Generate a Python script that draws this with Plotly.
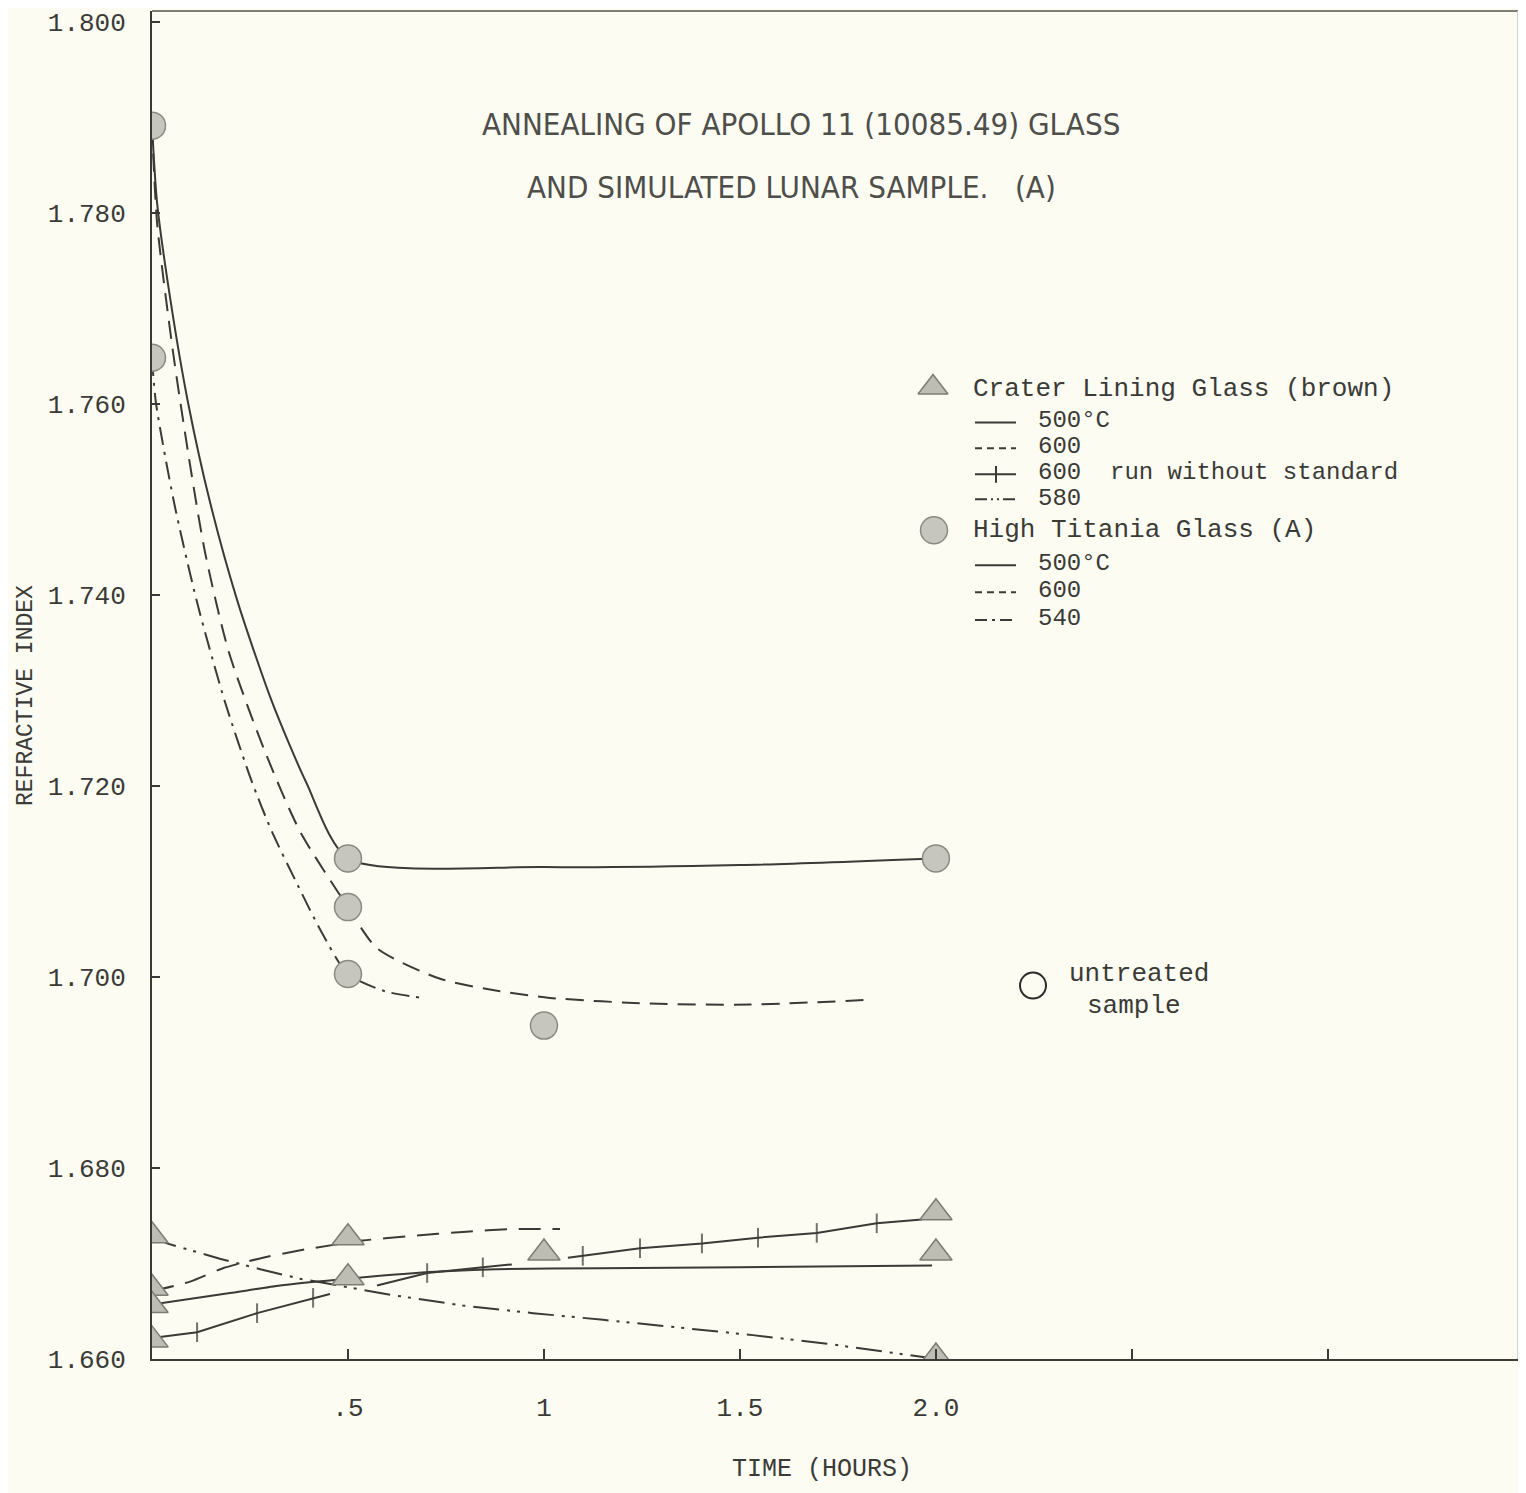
import plotly.graph_objects as go

# ---------------- data ----------------
# High Titania Glass (A): measured points
ht_x = [0, 0, 0.5, 0.5, 0.5, 1.0, 2.0]
ht_y = [1.7891, 1.7648, 1.7124, 1.7073, 1.7003, 1.6949, 1.7124]

# Crater Lining Glass (brown): measured points
cl_x = [0, 0, 0, 0, 0.5, 0.5, 1.0, 2.0, 2.0, 2.0]
cl_y = [1.6729, 1.6674, 1.6656, 1.6620, 1.6727, 1.6685, 1.6711, 1.6753, 1.6711, 1.6602]

# High Titania curves (traced)
ht500_x = [0, 0.013, 0.048, 0.092, 0.148, 0.219, 0.306, 0.393, 0.5, 1.0, 1.5, 2.0]
ht500_y = [1.7891, 1.7810, 1.7706, 1.7601, 1.7497, 1.7392, 1.7288, 1.7204, 1.7124, 1.7115, 1.7117, 1.7124]

ht600_x = [0, 0.013, 0.054, 0.092, 0.135, 0.196, 0.288, 0.378, 0.5,
           0.574, 0.735, 0.888, 1.015, 1.270, 1.526, 1.832]
ht600_y = [1.7891, 1.7789, 1.7653, 1.7549, 1.7445, 1.7340, 1.7236, 1.7152, 1.7073,
           1.7030, 1.6998, 1.6985, 1.6978, 1.6972, 1.6971, 1.6976]

ht540_x = [0, 0.010, 0.056, 0.115, 0.186, 0.255, 0.306, 0.367, 0.431, 0.5, 0.594, 0.689]
ht540_y = [1.7648, 1.7601, 1.7497, 1.7392, 1.7288, 1.7204, 1.7152, 1.7100, 1.7048, 1.7003, 1.6985, 1.6978]

# Crater Lining curves (traced)
cl500_x = [0, 0.199, 0.327, 0.472, 0.709, 0.880, 1.143, 1.5, 1.99]
cl500_y = [1.6657, 1.6669, 1.6677, 1.6683, 1.6691, 1.6694, 1.6695, 1.6696, 1.6698]

cl600_x = [0, 0.097, 0.181, 0.283, 0.395, 0.538, 0.666, 0.793, 0.921, 1.041]
cl600_y = [1.6671, 1.6681, 1.6695, 1.6706, 1.6715, 1.6724, 1.6729, 1.6733, 1.6736, 1.6736]

# 600 run without standard (None = break in the drawn line)
cl600ns_x = [0, 0.115, 0.268, 0.411, 0.454, None, 0.574, 0.702, 0.844, 0.918, None,
             1.061, 1.099, 1.245, 1.403, 1.546, 1.696, 1.849, 1.964]
cl600ns_y = [1.6622, 1.6628, 1.6648, 1.6664, 1.6668, None, 1.6677, 1.6690, 1.6696, 1.6699, None,
             1.6706, 1.6708, 1.6716, 1.6721, 1.6727, 1.6732, 1.6742, 1.6746]
cl600ns_tick = [0, 1, 1, 1, 0, 0, 0, 1, 1, 0, 0, 0, 1, 1, 1, 1, 1, 1, 0]

cl580_x = [0, 0.038, 0.173, 0.276, 0.378, 0.612, 0.793, 0.972, 1.151, 1.347, 1.533, 1.722, 1.883, 1.985]
cl580_y = [1.6729, 1.6721, 1.6705, 1.6694, 1.6684, 1.6667, 1.6656, 1.6648, 1.6641, 1.6633, 1.6625,
           1.6616, 1.6607, 1.6601]

y_ticks = [1.660, 1.680, 1.700, 1.720, 1.740, 1.760, 1.780, 1.800]
y_ticktext = ["1.660", "1.680", "1.700", "1.720", "1.740", "1.760", "1.780", "1.800"]
x_ticks = [0.5, 1.0, 1.5, 2.0, 2.5, 3.0]
x_ticktext = [".5", "1", "1.5", "2.0", "", ""]

# ---------------- styling ----------------
BG = "#fcfcf3"
INK = "#3a3a36"
MONO = "Liberation Mono, Courier New, monospace"
O = 8                      # page offset of the figure (body margin)
W, H = 1518, 1485
L, R, T, B = 144, 8, 1, 134
PW, PH = W - L - R, H - T - B


def px(x):                 # page pixel -> paper fraction
    return (x - O - L) / PW


def py(y):
    return (H - B - (y - O)) / PH


fig = go.Figure()

line_common = dict(color=INK, width=2)

fig.add_trace(go.Scatter(x=ht500_x, y=ht500_y, mode="lines", line=dict(**line_common, shape="spline", smoothing=0.7)))
fig.add_trace(go.Scatter(x=ht600_x, y=ht600_y, mode="lines",
                         line=dict(**line_common, dash="18px,10px", shape="spline", smoothing=0.7)))
fig.add_trace(go.Scatter(x=ht540_x, y=ht540_y, mode="lines",
                         line=dict(**line_common, dash="18px,7px,3px,7px", shape="spline", smoothing=0.7)))

fig.add_trace(go.Scatter(x=cl500_x, y=cl500_y, mode="lines", line=dict(**line_common, shape="spline", smoothing=0.6)))
fig.add_trace(go.Scatter(x=cl600_x, y=cl600_y, mode="lines",
                         line=dict(**line_common, dash="22px,12px", shape="spline", smoothing=0.6)))
fig.add_trace(go.Scatter(x=cl600ns_x, y=cl600ns_y, mode="lines+markers", connectgaps=False,
                         line=dict(**line_common),
                         marker=dict(symbol="line-ns", size=[14 * t for t in cl600ns_tick],
                                     line=dict(color=INK, width=2), color=INK)))
fig.add_trace(go.Scatter(x=cl580_x, y=cl580_y, mode="lines",
                         line=dict(**line_common, dash="26px,8px,3px,7px,3px,8px")))

fig.add_trace(go.Scatter(x=ht_x, y=ht_y, mode="markers",
                         marker=dict(symbol="circle", size=27, color="#c6c6be",
                                     line=dict(color="#8a8a82", width=1.5))))
fig.add_trace(go.Scatter(x=cl_x, y=cl_y, mode="markers",
                         marker=dict(symbol="triangle-up", size=28, color="#bdbdb4",
                                     line=dict(color="#7c7c74", width=1.5))))

# ---------------- legend drawn on an overlay (paper-like) axis ----------------
ov = dict(xaxis="x2", yaxis="y2", hoverinfo="skip")
fig.add_trace(go.Scatter(x=[px(933)], y=[py(386)], mode="markers", **ov,
                         marker=dict(symbol="triangle-up", size=26, color="#bdbdb4",
                                     line=dict(color="#7c7c74", width=1.5))))
fig.add_trace(go.Scatter(x=[px(934)], y=[py(529)], mode="markers", **ov,
                         marker=dict(symbol="circle", size=27, color="#c6c6be",
                                     line=dict(color="#8a8a82", width=1.5))))


def sample(yc, dash, tick=False):
    fig.add_trace(go.Scatter(x=[px(975), px(1016)], y=[py(yc), py(yc)], mode="lines", **ov,
                             line=dict(color=INK, width=2, dash=dash)))
    if tick:
        fig.add_trace(go.Scatter(x=[px(996)], y=[py(yc)], mode="markers", **ov,
                                 marker=dict(symbol="line-ns", size=12, line=dict(color=INK, width=2))))


sample(421, "solid")
sample(447, "7px,5px")
sample(473, "solid", tick=True)
sample(498, "12px,4px,2px,4px,2px,4px")
sample(564, "solid")
sample(591, "7px,5px")
sample(619, "12px,5px,3px,5px")

# untreated sample open circle
fig.add_trace(go.Scatter(x=[px(1033)], y=[py(985)], mode="markers", **ov,
                         marker=dict(symbol="circle-open", size=26, color="#2a2a28",
                                     line=dict(color="#2a2a28", width=2))))

ann = []


def txt(x, y, s, size=25, anchor="left", font=MONO, color="#3a3a36"):
    ann.append(dict(x=px(x), y=py(y), xref="paper", yref="paper", text=s, showarrow=False,
                    xanchor=anchor, yanchor="middle", font=dict(family=font, size=size, color=color)))


txt(971, 388, "Crater Lining Glass (brown)", size=26)
txt(1036, 419, "500°C", size=24)
txt(1036, 445, "600", size=24)
txt(1036, 471, "600  run without standard", size=24)
txt(1036, 497, "580", size=24)
txt(971, 529, "High Titania Glass (A)", size=26)
txt(1036, 562, "500°C", size=24)
txt(1036, 589, "600", size=24)
txt(1036, 617, "540", size=24)
txt(1067, 973, "untreated", size=26)
txt(1085, 1005, "sample", size=26)

TITLE_FONT = "DejaVu Sans Condensed, Liberation Sans Narrow, Roboto Condensed, sans-serif"
txt(801, 122, "ANNEALING OF APOLLO 11 (10085.49) GLASS", size=31, anchor="center", font=TITLE_FONT, color="#4e4e4a")
txt(791, 185, "AND SIMULATED LUNAR SAMPLE.   (A)", size=31, anchor="center", font=TITLE_FONT, color="#4e4e4a")

txt(822, 1470, "TIME (HOURS)", size=25, anchor="center")
ann.append(dict(x=px(26), y=py(695), xref="paper", yref="paper", text="REFRACTIVE INDEX", showarrow=False,
                textangle=-90, xanchor="center", yanchor="middle",
                font=dict(family=MONO, size=23, color="#3a3a36")))

shapes = [
    dict(type="line", xref="paper", yref="paper", x0=0, x1=1, y0=1, y1=1,
         line=dict(color="#55554f", width=1.5)),
    dict(type="line", xref="paper", yref="paper", x0=1, x1=1, y0=0, y1=1,
         line=dict(color="#cfd3d6", width=2)),
    dict(type="line", xref="paper", yref="paper", x0=1, x1=px(1526), y0=0, y1=0,
         line=dict(color=INK, width=2)),
]

fig.update_layout(
    width=W, height=H,
    margin=dict(l=L, r=R, t=T, b=B),
    paper_bgcolor=BG, plot_bgcolor=BG,
    showlegend=False,
    annotations=ann, shapes=shapes,
    xaxis=dict(range=[0, 3.485], tickvals=x_ticks, ticktext=x_ticktext, ticks="inside", ticklen=10,
               tickwidth=2, tickcolor=INK, showline=True, linecolor=INK, linewidth=2, showgrid=False,
               zeroline=False, tickfont=dict(family=MONO, size=26, color="#3a3a36"), ticklabelstandoff=24),
    yaxis=dict(range=[1.660, 1.8011], tickvals=y_ticks, ticktext=y_ticktext, ticks="inside", ticklen=8,
               tickwidth=2, tickcolor=INK, showline=True, linecolor=INK, linewidth=2, showgrid=False,
               zeroline=False, tickfont=dict(family=MONO, size=26, color="#3a3a36"), ticklabelstandoff=19,
               ticklabeloverflow="allow"),
    xaxis2=dict(range=[0, 1], overlaying="x", visible=False, fixedrange=True),
    yaxis2=dict(range=[0, 1], overlaying="y", visible=False, fixedrange=True),
)

fig.write_html("out.html")
